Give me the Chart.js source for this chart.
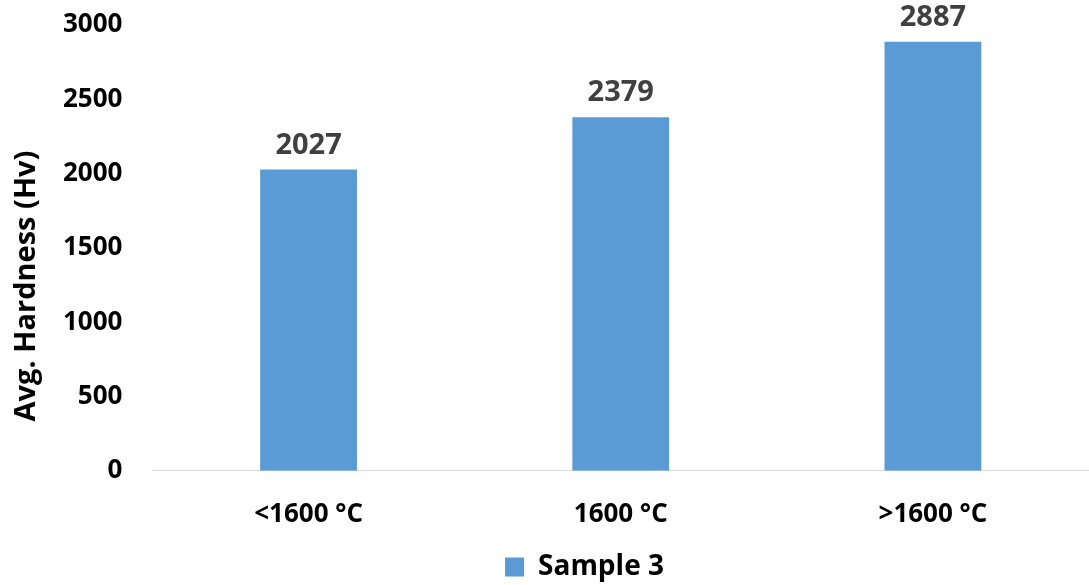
<!DOCTYPE html>
<html>
<head>
<meta charset="utf-8">
<script src="https://cdn.jsdelivr.net/npm/chart.js@4/dist/chart.umd.min.js"></script>
<style>
  html, body { margin: 0; padding: 0; background: #ffffff; }
  #wrap { width: 1089px; height: 585px; position: relative; }
</style>
</head>
<body>
<div id="wrap"><canvas id="c"></canvas></div>
<script>
const categories = ['<1600 °C', '1600 °C', '>1600 °C'];
const hardness = [2027, 2379, 2887];
const seriesName = 'Sample 3';
const yTicks = [0, 500, 1000, 1500, 2000, 2500, 3000];
const yTitle = 'Avg. Hardness (Hv)';

const FONT = '"Open Sans", Lato, sans-serif';

// writes each bar's value just above its top
const valueLabels = {
  id: 'valueLabels',
  afterDatasetsDraw(chart) {
    const { ctx } = chart;
    const meta = chart.getDatasetMeta(0);
    ctx.save();
    ctx.font = 'bold 29px ' + FONT;
    ctx.fillStyle = '#404040';
    ctx.textAlign = 'center';
    ctx.textBaseline = 'alphabetic';
    meta.data.forEach((bar, i) => {
      const v = chart.data.datasets[0].data[i];
      ctx.fillText(String(v), bar.x, bar.y - 16);
    });
    ctx.restore();
  }
};

// vertical axis title, centred on the whole drawing height
const sideTitle = {
  id: 'sideTitle',
  afterDraw(chart) {
    const { ctx } = chart;
    ctx.save();
    ctx.translate(27, 286);
    ctx.rotate(-Math.PI / 2);
    ctx.font = 'bold 29px ' + FONT;
    ctx.fillStyle = '#000000';
    ctx.textAlign = 'center';
    ctx.textBaseline = 'middle';
    ctx.fillText(yTitle, 0, 0);
    ctx.restore();
  }
};

// centre the legend under the whole page width rather than the padded box
const legendShift = {
  id: 'legendShift',
  afterLayout(chart) {
    const lg = chart.legend;
    if (!lg) return;
    const dx = (chart.width / 2) - (lg.left + lg.right) / 2 + 40;
    lg.left += dx;
    lg.right += dx;
  }
};

new Chart(document.getElementById('c'), {
  type: 'bar',
  data: {
    labels: categories,
    datasets: [{
      label: seriesName,
      data: hardness,
      backgroundColor: '#5B9BD5',
      borderWidth: 0,
      categoryPercentage: 1.0,
      barPercentage: 0.31
    }]
  },
  options: {
    responsive: true,
    maintainAspectRatio: false,
    animation: false,
    layout: { padding: { top: 25, right: 0, left: 33, bottom: -6 } },
    plugins: {
      legend: {
        position: 'bottom',
        labels: {
          boxWidth: 19,
          boxHeight: 19,
          color: '#000000',
          padding: 8,
          font: { family: FONT, size: 28, weight: 'bold' }
        }
      },
      tooltip: { enabled: false }
    },
    scales: {
      x: {
        grid: { display: false, drawTicks: false },
        border: { display: true, color: '#d9d9d9', width: 1 },
        afterFit(scale) { scale.height -= 13; },
        ticks: {
          color: '#000000',
          padding: 28,
          font: { family: FONT, size: 26, weight: 'bold' }
        }
      },
      y: {
        min: 0,
        max: 3000,
        afterBuildTicks(axis) { axis.ticks = yTicks.map(v => ({ value: v })); },
        afterFit(scale) { scale.paddingTop = 0; scale.paddingBottom = 0; },
        grid: { display: false, drawTicks: false },
        border: { display: false },
        ticks: {
          color: '#000000',
          padding: 30,
          callback: v => String(v),
          font: { family: FONT, size: 26, weight: 'bold' }
        }
      }
    }
  },
  plugins: [valueLabels, sideTitle, legendShift]
});
</script>
</body>
</html>
